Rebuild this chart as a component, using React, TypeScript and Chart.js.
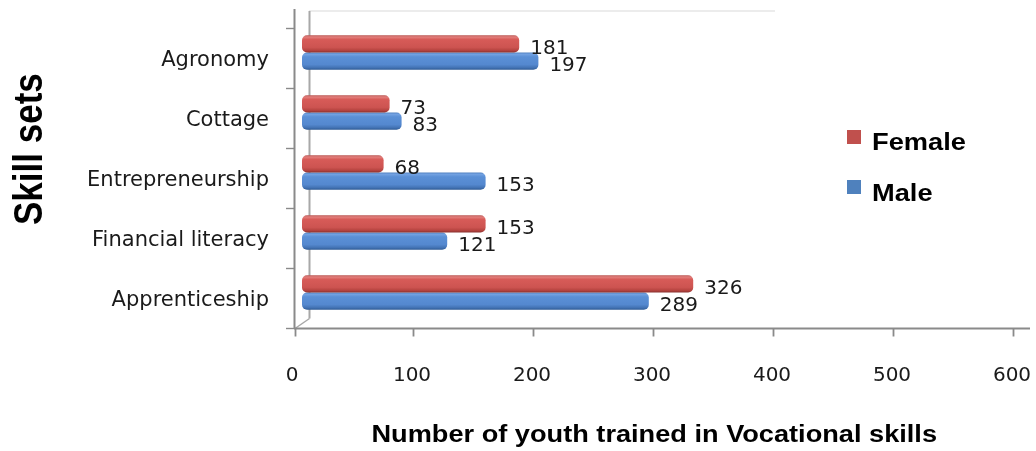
import React, { useEffect, useRef } from 'react';
import { Chart, registerables } from 'chart.js';

Chart.register(...registerables);

const categories = ['Agronomy', 'Cottage', 'Entrepreneurship', 'Financial literacy', 'Apprenticeship'];
const femaleValues = [181, 73, 68, 153, 326];
const maleValues = [197, 83, 153, 121, 289];
const seriesNames = ['Female', 'Male'];
const xTickValues = [0, 100, 200, 300, 400, 500, 600];
const xAxisTitle = 'Number of youth trained in Vocational skills';
const yAxisTitle = 'Skill sets';

const CAT_PCT = 0.575;
const BAR_PCT = 1;

const RED_STOPS: [number, string][] = [
  [0, '#b85552'], [0.1, '#e27f7c'], [0.25, '#d75b58'], [0.7, '#cd5451'], [0.88, '#b5433f'], [1, '#8a3130'],
];
const BLUE_STOPS: [number, string][] = [
  [0, '#4f7fbf'], [0.1, '#73a2e2'], [0.25, '#5b90d6'], [0.7, '#5488cf'], [0.88, '#4373b4'], [1, '#2e5a94'],
];
const LEGEND_COLORS = ['#c0504d', '#4f81bd'];

function makeFill(stops: [number, string][], flat: string) {
  return (ctx: any) => {
    const chart = ctx.chart;
    const ys = chart.scales && chart.scales.y;
    if (ctx.type !== 'data' || !ys || ys.bottom === undefined) return flat;
    const band = (ys.bottom - ys.top) / categories.length;
    const thick = (band * CAT_PCT * BAR_PCT) / 2;
    const center = ys.getPixelForValue(ctx.dataIndex);
    const top = center - (band * CAT_PCT) / 2 + ctx.datasetIndex * thick;
    if (!isFinite(top)) return flat;
    const g = chart.ctx.createLinearGradient(0, top, 0, top + thick);
    stops.forEach(([o, c]) => g.addColorStop(o, c));
    return g;
  };
}

const decoPlugin = {
  id: 'deco3d',
  beforeDatasetsDraw(chart: any) {
    const ctx = chart.ctx;
    const xs = chart.scales.x;
    const ys = chart.scales.y;
    const band = (ys.bottom - ys.top) / categories.length;
    const shift = 5.5;
    const floorY = ys.bottom + shift + 0.5;
    const line = (x1: number, y1: number, x2: number, y2: number, color: string, w = 1) => {
      ctx.beginPath();
      ctx.strokeStyle = color;
      ctx.lineWidth = w;
      ctx.moveTo(x1, y1);
      ctx.lineTo(x2, y2);
      ctx.stroke();
    };
    ctx.save();
    // back wall top edge
    line(309, 11, 775, 11, '#d9d9d9', 1);
    // back wall left edge
    line(309.5, 11, 309.5, floorY - 10, '#a8a8a8', 2);
    // front left axis
    line(294.5, 9, 294.5, floorY, '#8a8a8a', 2);
    // floor diagonal
    line(295, floorY, 309.5, floorY - 10, '#a8a8a8', 1.5);
    // floor front edge
    line(294, floorY, 1030, floorY, '#8a8a8a', 1.8);
    // category tick marks
    for (let k = 0; k <= categories.length; k++) {
      const y = Math.round(ys.top + shift + k * band) + 0.5;
      line(286, y, 294.5, y, '#8a8a8a', 1.4);
    }
    // value tick marks
    xTickValues.forEach((v, i) => {
      const x = Math.round(xs.getPixelForValue(v) - (i === 0 ? 7.5 : 9.5)) + 0.5;
      line(x, floorY, x, floorY + 8, '#8a8a8a', 1.8);
    });
    ctx.restore();
  },
  afterDatasetsDraw(chart: any) {
    const ctx = chart.ctx;
    ctx.save();
    ctx.font = '20px "DejaVu Sans"';
    ctx.fillStyle = '#1a1a1a';
    ctx.textAlign = 'left';
    ctx.textBaseline = 'middle';
    chart.data.datasets.forEach((ds: any, i: number) => {
      const meta = chart.getDatasetMeta(i);
      meta.data.forEach((el: any, j: number) => {
        const { x, y } = el.getProps(['x', 'y'], true);
        ctx.fillText(String(ds.data[j]), x + 11, y + 5);
      });
    });
    ctx.restore();
  },
  afterDraw(chart: any) {
    const ctx = chart.ctx;
    ctx.save();
    ctx.fillStyle = '#000';
    ctx.textBaseline = 'alphabetic';
    ctx.textAlign = 'left';
    // x axis title
    ctx.save();
    ctx.translate(371.5, 441.5);
    ctx.scale(1.166, 1);
    ctx.font = 'bold 23.3px "Liberation Sans"';
    ctx.fillText(xAxisTitle, 0, 0);
    ctx.restore();
    // y axis title
    ctx.save();
    ctx.translate(41.5, 225);
    ctx.rotate(-Math.PI / 2);
    ctx.scale(1, 1.18);
    ctx.font = 'bold 35px "Liberation Sans"';
    ctx.fillText(yAxisTitle, 0, 0);
    ctx.restore();
    // legend
    const legendY = [150, 201];
    const boxY = [130, 180];
    seriesNames.forEach((name, i) => {
      ctx.fillStyle = LEGEND_COLORS[i];
      ctx.fillRect(847, boxY[i], 14, 14);
      ctx.save();
      ctx.fillStyle = '#000';
      ctx.translate(872, legendY[i]);
      ctx.scale(1.16, 1);
      ctx.font = 'bold 23.5px "Liberation Sans"';
      ctx.fillText(name, 0, 0);
      ctx.restore();
    });
    ctx.restore();
  },
};

export default function App() {
  const canvasRef = useRef<HTMLCanvasElement | null>(null);

  useEffect(() => {
    const canvas = canvasRef.current;
    if (!canvas) return;
    const chart = new Chart(canvas, {
      type: 'bar',
      data: {
        labels: categories,
        datasets: [
          {
            label: seriesNames[0],
            data: femaleValues,
            backgroundColor: makeFill(RED_STOPS, '#c0504d') as any,
            borderWidth: 0,
            borderRadius: 5,
            borderSkipped: false,
          },
          {
            label: seriesNames[1],
            data: maleValues,
            backgroundColor: makeFill(BLUE_STOPS, '#4f81bd') as any,
            borderWidth: 0,
            borderRadius: 5,
            borderSkipped: false,
          },
        ],
      },
      options: {
        indexAxis: 'y',
        responsive: false,
        maintainAspectRatio: false,
        animation: false,
        devicePixelRatio: 1,
        layout: { padding: { left: 0, right: 14, top: 22.5, bottom: 0 } },
        datasets: { bar: { categoryPercentage: CAT_PCT, barPercentage: BAR_PCT } },
        plugins: {
          legend: { display: false },
          tooltip: { enabled: false },
          title: { display: false },
        },
        scales: {
          x: {
            type: 'linear',
            position: 'bottom',
            min: 0,
            max: 600,
            afterBuildTicks: (s: any) => {
              s.ticks = xTickValues.map((v) => ({ value: v }));
            },
            ticks: {
              labelOffset: -10,
              padding: 41,
              maxRotation: 0,
              autoSkip: false,
              color: '#1a1a1a',
              font: { family: 'DejaVu Sans', size: 20 },
            },
            grid: { display: false, drawTicks: false },
            border: { display: false },
            afterFit: (s: any) => {
              s.height = 128.5;
              s.paddingLeft = 0;
              s.paddingRight = 0;
            },
          },
          y: {
            type: 'category',
            position: 'left',
            ticks: {
              labelOffset: 8,
              padding: 33,
              autoSkip: false,
              color: '#1a1a1a',
              font: { family: 'DejaVu Sans', size: 21 },
            },
            grid: { display: false, drawTicks: false },
            border: { display: false },
            afterFit: (s: any) => {
              s.width = 302;
              s.paddingTop = 0;
              s.paddingBottom = 0;
            },
          },
        },
      } as any,
      plugins: [decoPlugin],
    });
    return () => chart.destroy();
  }, []);

  return (
    <div style={{ position: 'fixed', left: 0, top: 0, width: 1036, height: 451, background: '#fff' }}>
      <canvas ref={canvasRef} width={1036} height={451} style={{ display: 'block', width: 1036, height: 451 }} />
    </div>
  );
}
